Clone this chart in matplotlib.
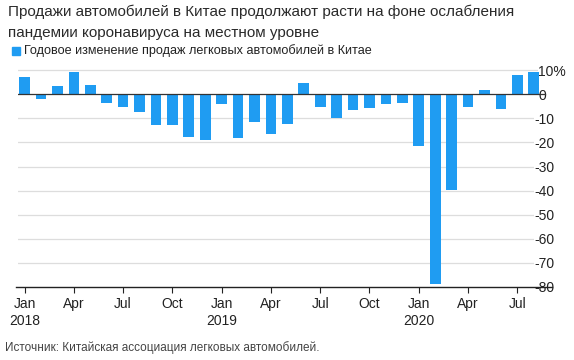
import matplotlib
matplotlib.use("Agg")
import matplotlib.pyplot as plt
from matplotlib.transforms import ScaledTranslation

# ---- data ----
months = ["Jan", "Feb", "Mar", "Apr", "May", "Jun", "Jul", "Aug", "Sep", "Oct", "Nov", "Dec"]
years = [2018, 2019, 2020]
n_months = 32  # Jan 2018 .. Aug 2020
yoy_change = [7.2, -2.1, 3.4, 9.3, 3.8, -3.5, -5.1, -7.3, -12.8, -12.8, -17.6, -18.8,
              -3.9, -18.3, -11.6, -16.5, -12.4, 4.9, -5.1, -9.9, -6.5, -5.8, -3.9, -3.6,
              -21.3, -78.9, -39.8, -5.4, 1.8, -6.2, 8.0, 9.1]
y_ticks = [10, 0, -10, -20, -30, -40, -50, -60, -70, -80]

title = "Продажи автомобилей в Китае продолжают расти на фоне ослабления\nпандемии коронавируса на местном уровне"
legend_label = "Годовое изменение продаж легковых автомобилей в Китае"
source = "Источник: Китайская ассоциация легковых автомобилей."

BLUE = "#1f9cf2"
plt.rcParams["font.family"] = ["Liberation Sans", "DejaVu Sans"]

fig = plt.figure(figsize=(5.74, 3.6), dpi=100)
ax = fig.add_axes([18 / 574, 73 / 360, 530 / 574, 221.6 / 360])

x = list(range(n_months))
ax.bar(x, yoy_change, width=0.65, color=BLUE, zorder=3)

ax.set_xlim(-0.4, 31.87)
ax.set_ylim(-80, 12)

# grid lines
for v in y_ticks:
    if v == 0:
        ax.axhline(v, color="#333333", lw=0.9, zorder=4, xmax=0.995)
    elif v == -80:
        pass
    else:
        ax.axhline(v, color="#dddddd", lw=0.9, zorder=1, xmax=1.0)
ax.plot([-0.5, 32.1], [-80, -80], color="#222222", lw=1.0, clip_on=False, zorder=5)

for s in ax.spines.values():
    s.set_visible(False)

# y labels on the right, sitting over the grid line ends
ax.yaxis.tick_right()
ax.set_yticks(y_ticks)
ax.set_yticklabels([f"{v}%" if v == 10 else str(v) for v in y_ticks])
ax.tick_params(axis="y", length=0, pad=-7, labelsize=10, labelcolor="#222222")
for lbl in ax.get_yticklabels():
    lbl.set_horizontalalignment("left")
    if lbl.get_text().startswith("-"):
        lbl.set_transform(lbl.get_transform() + ScaledTranslation(-4 / 100, 0, fig.dpi_scale_trans))
    lbl.set_bbox(dict(facecolor="white", edgecolor="none", pad=0.3))

# x ticks every quarter
tick_pos = list(range(0, n_months, 3))
tick_lbl = []
for i in tick_pos:
    m = months[i % 12]
    if i % 12 == 0:
        m = m + "\n" + str(years[i // 12])
    tick_lbl.append(m)
ax.set_xticks(tick_pos)
ax.set_xticklabels(tick_lbl, fontsize=10, color="#222222", linespacing=1.3)
ax.tick_params(axis="x", length=4, width=0.8, color="#222222", pad=3)

# title, legend, source
fig.text(8 / 574, 1 - 5 / 360, title, ha="left", va="top", fontsize=11.0, color="#2a2a2a", linespacing=1.6)
fig.patches.append(plt.Rectangle((12 / 574, 1 - 55 / 360), 8 / 574, 8 / 360,
                                 transform=fig.transFigure, color=BLUE, figure=fig))
fig.text(24 / 574, 1 - 51 / 360, legend_label, ha="left", va="center", fontsize=9.1, color="#222222")
fig.text(5 / 574, 1 - 348 / 360, source, ha="left", va="center", fontsize=8.5, color="#444444")

fig.savefig("out.png", dpi=100)
